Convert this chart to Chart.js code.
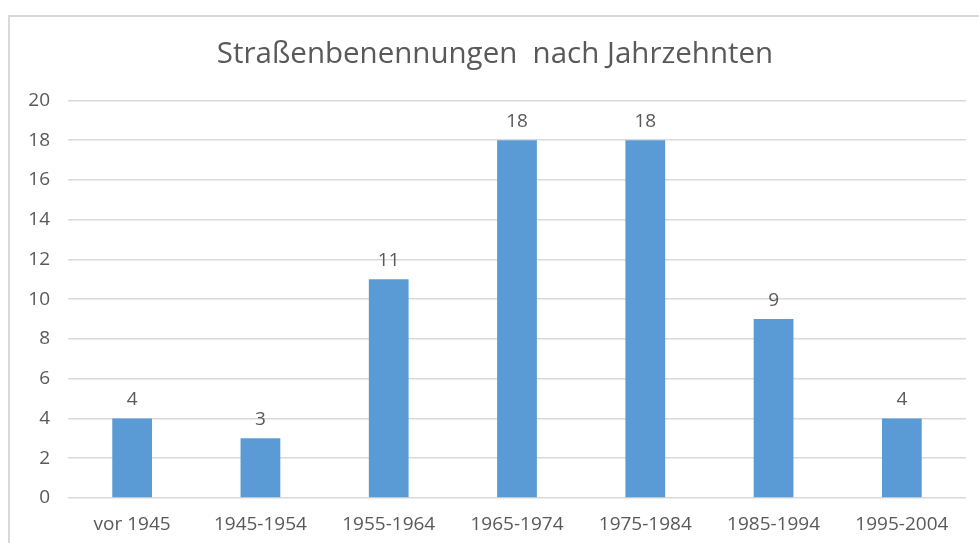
<!DOCTYPE html>
<html>
<head>
<meta charset="utf-8">
<script src="https://cdn.jsdelivr.net/npm/chart.js@4.4.1/dist/chart.umd.min.js"></script>
<style>
  html, body { margin: 0; padding: 0; background: #fff; overflow: hidden; }
  #frame {
    position: absolute; left: 8px; top: 15px; width: 1000px; height: 600px;
    border-left: 2px solid #d9d9d9; border-top: 2px solid #d9d9d9;
  }
  #wrap { position: absolute; left: 0; top: 0; width: 979px; height: 543px; }
</style>
</head>
<body>
<div id="frame"></div>
<div id="wrap"><canvas id="chart"></canvas></div>
<script>
// Data
const categories = ['vor 1945', '1945-1954', '1955-1964', '1965-1974', '1975-1984', '1985-1994', '1995-2004'];
const counts = [4, 3, 11, 18, 18, 9, 4];
const yTicks = [0, 2, 4, 6, 8, 10, 12, 14, 16, 18, 20];

const TEXT_COLOR = '#595959';
const GRID_COLOR = '#d9d9d9';
const FONT = "'Open Sans', sans-serif";

// draws the value above each bar
const valueLabels = {
  id: 'valueLabels',
  afterDatasetsDraw(chart) {
    const { ctx } = chart;
    const meta = chart.getDatasetMeta(0);
    ctx.save();
    ctx.font = `19px ${FONT}`;
    ctx.fillStyle = TEXT_COLOR;
    ctx.textAlign = 'center';
    ctx.textBaseline = 'bottom';
    meta.data.forEach((bar, i) => {
      ctx.fillText(String(counts[i]), bar.x, bar.y - 9);
    });
    ctx.restore();
  },
};

new Chart(document.getElementById('chart'), {
  type: 'bar',
  data: {
    labels: categories,
    datasets: [{
      data: counts,
      backgroundColor: '#5b9bd5',
      borderWidth: 0,
      barPercentage: 0.62,
      categoryPercentage: 0.5,
    }],
  },
  options: {
    responsive: true,
    maintainAspectRatio: false,
    animation: false,
    // left padding nudges the title centre; y axis width makes up the rest
    layout: { padding: { left: 24, right: 13, top: 0, bottom: 0 } },
    plugins: {
      legend: { display: false },
      tooltip: { enabled: false },
      title: {
        display: true,
        text: 'Straßenbenennungen  nach Jahrzehnten',
        color: TEXT_COLOR,
        font: { family: FONT, size: 29.5, weight: 'normal' },
        padding: { top: 37, bottom: 28 },
      },
    },
    scales: {
      x: {
        grid: { display: false, drawTicks: false },
        border: { display: false },
        ticks: {
          color: TEXT_COLOR,
          font: { family: FONT, size: 19 },
          padding: 15,
          maxRotation: 0,
          autoSkip: false,
        },
        afterFit(scale) { scale.height = 45; },
      },
      y: {
        min: 0,
        max: 20,
        afterBuildTicks(scale) { scale.ticks = yTicks.map(v => ({ value: v })); },
        grid: { color: GRID_COLOR, lineWidth: 1.5, drawTicks: false },
        border: { display: false },
        ticks: {
          color: TEXT_COLOR,
          font: { family: FONT, size: 19 },
          padding: 18,
        },
        afterFit(scale) { scale.width = 44; },
      },
    },
  },
  plugins: [valueLabels],
});
</script>
</body>
</html>
